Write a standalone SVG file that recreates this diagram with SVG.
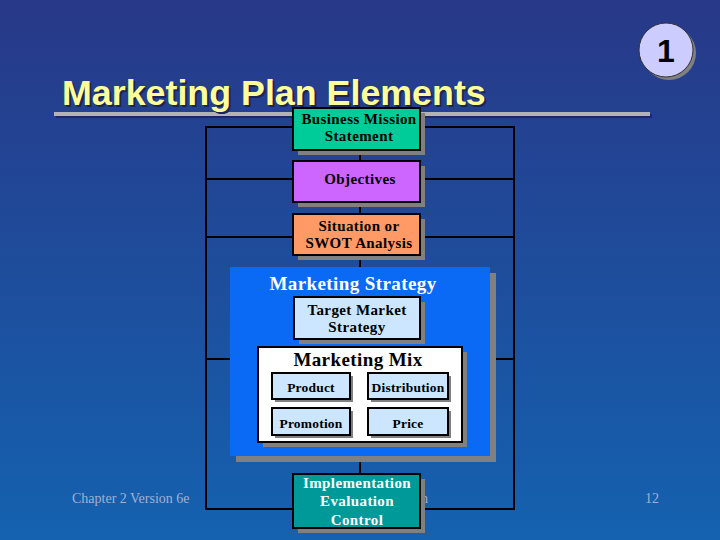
<svg xmlns="http://www.w3.org/2000/svg" width="720" height="540" viewBox="0 0 720 540">
<defs>
<linearGradient id="bg" x1="0" y1="0" x2="0" y2="1">
<stop offset="0" stop-color="#283888"/>
<stop offset="1" stop-color="#1462b0"/>
</linearGradient>
</defs>
<style>
.sh{fill:#808080}
.box{stroke:#000;stroke-width:2}
.ln{stroke:#000;stroke-width:2;fill:none}
.t{font-family:"Liberation Serif","Times New Roman",serif;font-size:15px;font-weight:bold;letter-spacing:0.4px;text-anchor:middle;fill:#000}
.sm{font-size:13.5px;letter-spacing:0.2px}
.hd{font-size:19px}
.w{fill:#fff}
.ft{font-family:"Liberation Serif","Times New Roman",serif;font-size:14px;fill:#a2b0d2}
</style>
<rect width="720" height="540" fill="url(#bg)"/>
<g id="title">
<rect x="56" y="114" width="596" height="4" fill="#1b2a66"/>
<rect x="54" y="112" width="596" height="4" fill="#b3b3b3"/>
<text x="64" y="107" font-family="Liberation Sans,Arial,sans-serif" font-size="35.8" font-weight="bold" fill="#1b2458">Marketing Plan Elements</text>
<text x="62" y="105" font-family="Liberation Sans,Arial,sans-serif" font-size="35.8" font-weight="bold" fill="#ffff99">Marketing Plan Elements</text>
</g>
<g id="badge">
<circle cx="669" cy="53" r="27" fill="#808080"/>
<circle cx="666" cy="50" r="27" fill="#ccccff" stroke="#333" stroke-width="1"/>
<text x="666" y="62" font-family="Liberation Sans,Arial,sans-serif" font-size="32" font-weight="bold" text-anchor="middle" fill="#000">1</text>
</g>
<g id="footer">
<text class="ft" x="72" y="503">Chapter 2 Version 6e</text>
<text class="ft" x="421" y="503">n</text>
<text class="ft" x="645" y="503">12</text>
</g>
<g id="connectors">
<path class="ln" d="M206 127H514V509H206Z"/>
<path class="ln" d="M206 179H514M206 237H514M206 359H230M490 359H514"/>
<path class="ln" d="M360 150V474"/>
</g>
<g id="mission">
<rect class="sh" x="298" y="113" width="127" height="42"/>
<rect class="box" x="293" y="108" width="127" height="42" fill="#00cc99"/>
<text class="t" x="359" y="124">Business Mission</text>
<text class="t" x="359" y="141">Statement</text>
</g>
<g id="objectives">
<rect class="sh" x="298" y="166" width="127" height="41"/>
<rect class="box" x="293" y="161" width="127" height="41" fill="#cc66ff"/>
<text class="t" x="360" y="184">Objectives</text>
</g>
<g id="swot">
<rect class="sh" x="298" y="219" width="127" height="41"/>
<rect class="box" x="293" y="214" width="127" height="41" fill="#ff9966"/>
<text class="t" x="359" y="231">Situation or</text>
<text class="t" x="359" y="248">SWOT Analysis</text>
</g>
<g id="strategy">
<rect class="sh" x="236" y="273" width="260" height="189"/>
<rect x="230" y="267" width="260" height="189" fill="#0a6af6"/>
<text class="t hd w" x="353" y="290">Marketing Strategy</text>
</g>
<g id="target">
<rect class="sh" x="299" y="302" width="126" height="42"/>
<rect class="box" x="294" y="297" width="126" height="42" fill="#cce6ff"/>
<text class="t" x="357" y="315">Target Market</text>
<text class="t" x="357" y="332">Strategy</text>
</g>
<g id="mix">
<rect class="sh" x="263" y="352" width="204" height="95"/>
<rect class="box" x="258" y="347" width="204" height="95" fill="#fff"/>
<text class="t hd" x="358" y="366">Marketing Mix</text>
</g>
<g id="product">
<rect class="sh" x="275" y="376" width="78" height="26"/>
<rect class="box" x="272" y="373" width="78" height="26" fill="#cce6ff"/>
<text class="t sm" x="311" y="392">Product</text>
</g>
<g id="distribution">
<rect class="sh" x="371" y="376" width="80" height="26"/>
<rect class="box" x="368" y="373" width="80" height="26" fill="#cce6ff"/>
<text class="t sm" x="408" y="392">Distribution</text>
</g>
<g id="promotion">
<rect class="sh" x="275" y="411" width="78" height="27"/>
<rect class="box" x="272" y="408" width="78" height="27" fill="#cce6ff"/>
<text class="t sm" x="311" y="428">Promotion</text>
</g>
<g id="price">
<rect class="sh" x="371" y="411" width="80" height="27"/>
<rect class="box" x="368" y="408" width="80" height="27" fill="#cce6ff"/>
<text class="t sm" x="408" y="428">Price</text>
</g>
<g id="implementation">
<rect class="sh" x="298" y="479" width="127" height="54"/>
<rect class="box" x="293" y="474" width="127" height="54" fill="#009999"/>
<text class="t w" x="357" y="488">Implementation</text>
<text class="t w" x="357" y="506">Evaluation</text>
<text class="t w" x="357" y="525">Control</text>
</g>
</svg>
